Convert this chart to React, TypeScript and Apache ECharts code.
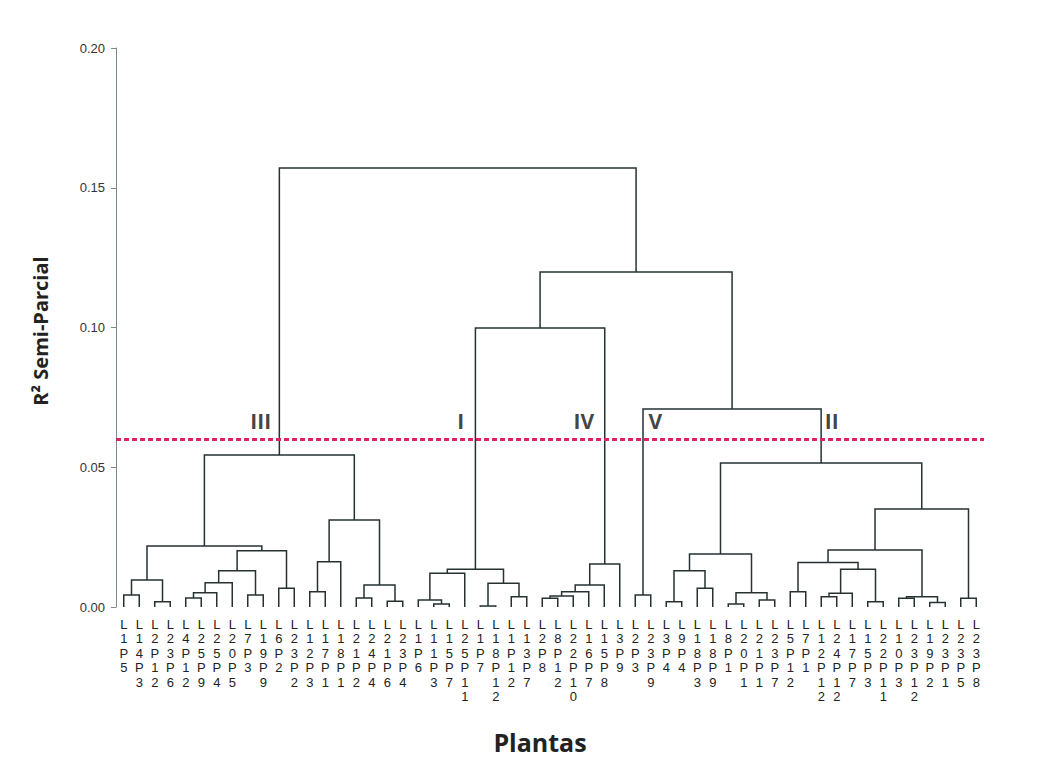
import React, { useEffect, useRef } from 'react';
import * as echarts from 'echarts';

// Leaf labels (plants), left to right
const leafLabels: string[] = [
  'L1P5', 'L14P3', 'L2P12', 'L23P6', 'L4P12', 'L25P9', 'L25P4', 'L20P5', 'L7P3', 'L19P9',
  'L6P2', 'L23P2', 'L12P3', 'L17P1', 'L18P1', 'L21P2', 'L24P4', 'L21P6', 'L23P4',
  'L1P6', 'L11P3', 'L15P7', 'L25P11', 'L1P7', 'L18P12', 'L1P12', 'L13P7',
  'L2P8', 'L8P12', 'L22P10', 'L16P7', 'L15P8', 'L3P9',
  'L2P3', 'L23P9',
  'L3P4', 'L9P4', 'L18P3', 'L18P9', 'L8P1', 'L20P1', 'L21P1', 'L23P7', 'L5P12', 'L7P1',
  'L12P12', 'L24P12', 'L17P7', 'L15P3', 'L22P11', 'L10P3', 'L23P12', 'L19P2', 'L23P1',
  'L23P5', 'L23P8',
];

// Merges: [id, left child, right child, R² semi-partial height]
const merges: [string, string, string, number][] = [
  ['A1', 'L1P5', 'L14P3', 0.0043],
  ['A2', 'L2P12', 'L23P6', 0.0019],
  ['A3', 'A1', 'A2', 0.0097],
  ['A4', 'L4P12', 'L25P9', 0.0032],
  ['A5', 'A4', 'L25P4', 0.0051],
  ['A6', 'A5', 'L20P5', 0.0087],
  ['A7', 'L7P3', 'L19P9', 0.0043],
  ['A8', 'A6', 'A7', 0.013],
  ['A9', 'L6P2', 'L23P2', 0.0067],
  ['A10', 'A8', 'A9', 0.0201],
  ['A11', 'A3', 'A10', 0.0218],
  ['A12', 'L12P3', 'L17P1', 0.0055],
  ['A13', 'A12', 'L18P1', 0.0162],
  ['A14', 'L21P2', 'L24P4', 0.0032],
  ['A15', 'L21P6', 'L23P4', 0.0021],
  ['A16', 'A14', 'A15', 0.0079],
  ['A17', 'A13', 'A16', 0.0311],
  ['A18', 'A11', 'A17', 0.0544],
  ['B1', 'L11P3', 'L15P7', 0.0011],
  ['B2', 'L1P6', 'B1', 0.0025],
  ['B3', 'B2', 'L25P11', 0.0121],
  ['B4', 'L1P7', 'L18P12', 0.0004],
  ['B5', 'L1P12', 'L13P7', 0.0037],
  ['B6', 'B4', 'B5', 0.0085],
  ['B7', 'B3', 'B6', 0.0135],
  ['C1', 'L2P8', 'L8P12', 0.0031],
  ['C2', 'C1', 'L22P10', 0.0039],
  ['C3', 'C2', 'L16P7', 0.0055],
  ['C4', 'C3', 'L15P8', 0.0079],
  ['C5', 'C4', 'L3P9', 0.0154],
  ['D1', 'B7', 'C5', 0.0998],
  ['E1', 'L2P3', 'L23P9', 0.0043],
  ['F1', 'L3P4', 'L9P4', 0.0019],
  ['F2', 'L18P3', 'L18P9', 0.0067],
  ['F3', 'F1', 'F2', 0.013],
  ['F4', 'L8P1', 'L20P1', 0.0011],
  ['F5', 'L21P1', 'L23P7', 0.0025],
  ['F6', 'F4', 'F5', 0.0051],
  ['F7', 'F3', 'F6', 0.019],
  ['F8', 'L5P12', 'L7P1', 0.0055],
  ['F9', 'L12P12', 'L24P12', 0.0037],
  ['F10', 'F9', 'L17P7', 0.0049],
  ['F11', 'L15P3', 'L22P11', 0.0019],
  ['F12', 'F10', 'F11', 0.0135],
  ['F13', 'F8', 'F12', 0.0159],
  ['F14', 'L10P3', 'L23P12', 0.0031],
  ['F15', 'L19P2', 'L23P1', 0.0016],
  ['F16', 'F14', 'F15', 0.0037],
  ['F17', 'F13', 'F16', 0.0204],
  ['F18', 'L23P5', 'L23P8', 0.0031],
  ['F19', 'F17', 'F18', 0.0351],
  ['F20', 'F7', 'F19', 0.0515],
  ['G1', 'E1', 'F20', 0.0708],
  ['G2', 'D1', 'G1', 0.1199],
  ['R', 'A18', 'G2', 0.1571],
];

// Cut line and group labels
const cutHeight = 0.063;
const groupNames = ['III', 'I', 'IV', 'V', 'II'];
const groupLabelX = [8.84, 21.74, 29.68, 34.3, 45.68];
const groupLabelY = [0.0667, 0.0667, 0.0667, 0.0667, 0.0667];

const yTicks = [0, 0.05, 0.1, 0.15, 0.2];

function buildSegments() {
  const pos: Record<string, { x: number; h: number }> = {};
  leafLabels.forEach((l, i) => {
    pos[l] = { x: i, h: 0 };
  });
  const segs: number[][] = [];
  for (const [id, a, b, h] of merges) {
    const pa = pos[a];
    const pb = pos[b];
    segs.push([pa.x, pa.h, pb.x, pb.h, h]);
    pos[id] = { x: (pa.x + pb.x) / 2, h };
  }
  return segs;
}

export default function App() {
  const ref = useRef<HTMLDivElement>(null);
  useEffect(() => {
    if (!ref.current) return;
    const chart = echarts.init(ref.current, undefined, { renderer: 'svg' });
    const segs = buildSegments();
    const font = "'Liberation Sans', Arial, sans-serif";
    chart.setOption({
      animation: false,
      backgroundColor: '#ffffff',
      grid: { left: 116, top: 48, width: 868, height: 559 },
      xAxis: [
        {
          type: 'category',
          data: leafLabels,
          boundaryGap: true,
          axisLine: { show: false },
          axisTick: { show: false },
          axisLabel: {
            interval: 0,
            margin: 10,
            fontSize: 13,
            lineHeight: 14.5,
            color: '#222',
            fontFamily: font,
            formatter: (v: string) => v.split('').join('\n'),
          },
        },
        {
          type: 'value',
          min: -0.5,
          max: leafLabels.length - 0.5,
          show: false,
        },
      ],
      yAxis: {
        type: 'value',
        min: yTicks[0],
        max: yTicks[yTicks.length - 1],
        interval: 0.05,
        splitLine: { show: false },
        axisLine: { show: true, onZero: false, lineStyle: { color: '#7f8a8a', width: 1 } },
        axisTick: { show: true, length: 5, lineStyle: { color: '#7f8a8a' } },
        axisLabel: {
          margin: 11,
          fontSize: 13,
          color: '#333',
          fontFamily: font,
          formatter: (v: number) => v.toFixed(2),
        },
      },
      graphic: [
        {
          type: 'text',
          x: 40,
          y: 331,
          rotation: Math.PI / 2,
          style: {
            text: 'R² Semi-Parcial',
            font: "bold 20px 'Open Sans', Arial, sans-serif",
            fill: '#222',
            align: 'center',
            verticalAlign: 'middle',
          },
        },
        {
          type: 'text',
          x: 540,
          y: 742,
          style: {
            text: 'Plantas',
            font: "bold 25px 'Open Sans', Arial, sans-serif",
            fill: '#222',
            align: 'center',
            verticalAlign: 'middle',
          },
        },
      ],
      series: [
        {
          type: 'custom',
          xAxisIndex: 1,
          clip: false,
          dimensions: ['x1', 'h1', 'x2', 'h2', 'h'],
          encode: { x: [0, 2], y: [1, 3, 4] },
          data: segs,
          renderItem: (_params: any, api: any) => {
            const p0 = api.coord([api.value(0), api.value(1)]);
            const p1 = api.coord([api.value(0), api.value(4)]);
            const p2 = api.coord([api.value(2), api.value(4)]);
            const p3 = api.coord([api.value(2), api.value(3)]);
            return {
              type: 'polyline',
              shape: { points: [p0, p1, p2, p3] },
              style: { stroke: '#263232', lineWidth: 1.5, fill: 'none' },
            };
          },
        },
        {
          type: 'scatter',
          xAxisIndex: 1,
          symbolSize: 0,
          data: groupNames.map((n, i) => [groupLabelX[i], groupLabelY[i], n]),
          label: {
            show: true,
            position: 'inside',
            formatter: (p: any) => p.value[2],
            fontSize: 21,
            fontWeight: 'bold',
            color: '#111',
            fontFamily: "'Open Sans', Arial, sans-serif",
          },
          markLine: {
            silent: true,
            symbol: 'none',
            label: { show: false },
            lineStyle: { color: '#d8245f', width: 3, type: [5, 3] },
            data: [{ yAxis: cutHeight }],
          },
        },
      ],
    });
    return () => chart.dispose();
  }, []);
  return (
    <div
      ref={ref}
      style={{ position: 'absolute', left: 0, top: 0, width: 1043, height: 773 }}
    />
  );
}
